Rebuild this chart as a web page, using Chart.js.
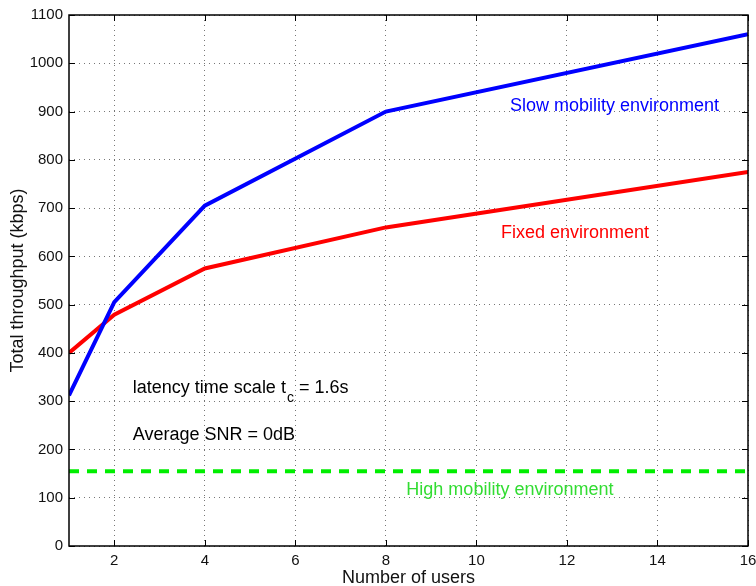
<!DOCTYPE html>
<html>
<head>
<meta charset="utf-8">
<script src="https://cdn.jsdelivr.net/npm/chart.js@4"></script>
<style>
  body { margin: 0; background: #fff; }
  #wrap { width: 756px; height: 586px; }
</style>
</head>
<body>
<div id="wrap"><canvas id="myChart" width="756" height="586"></canvas></div>
<script>
    // values
    var users = [1, 2, 4, 8, 16];
    var slowMobility = [312, 505, 705, 900, 1060];
    var fixedEnv = [400, 479, 575, 660, 775];
    var highMobilityX = [1, 16];
    var highMobility = [155, 155];
    var xTicks = [2, 4, 6, 8, 10, 12, 14, 16];

    function toPoints(xs, ys) {
      return xs.map(function(x, i) { return { x: x, y: ys[i] }; });
    }

    var fontFamily = '"Liberation Sans", Arial, Helvetica, sans-serif';

    // labels written inside the plot, placed in data coordinates
    var notes = [
      { text: 'Slow mobility environment', x: 13.05, y: 912, color: '#0000ff', align: 'center' },
      { text: 'Fixed environment', x: 12.18, y: 649, color: '#ff0000', align: 'center' },
      { text: 'High mobility environment', x: 10.74, y: 116, color: 'rgb(50,220,50)', align: 'center' },
      { text: 'Average SNR = 0dB', x: 2.41, y: 229, color: '#000', align: 'left' }
    ];

    var framePlugin = {
      id: 'frame',
      afterDraw: function(chart) {
        var c = chart.ctx, a = chart.chartArea;
        var xs = chart.scales.x, ys = chart.scales.y;
        c.save();
        c.strokeStyle = '#000';
        c.lineWidth = 1.5;
        c.strokeRect(a.left, a.top, a.right - a.left, a.bottom - a.top);
        // inward ticks
        c.lineWidth = 1;
        xTicks.forEach(function(v) {
          var px = Math.round(xs.getPixelForValue(v)) + 0.5;
          c.beginPath();
          c.moveTo(px, a.bottom); c.lineTo(px, a.bottom - 6);
          c.moveTo(px, a.top); c.lineTo(px, a.top + 6);
          c.stroke();
        });
        for (var v = 0; v <= 1100; v += 100) {
          var py = Math.round(ys.getPixelForValue(v)) + 0.5;
          c.beginPath();
          c.moveTo(a.left, py); c.lineTo(a.left + 6, py);
          c.moveTo(a.right, py); c.lineTo(a.right - 6, py);
          c.stroke();
        }
        // annotations
        c.font = '18px ' + fontFamily;
        c.textBaseline = 'middle';
        notes.forEach(function(n) {
          c.fillStyle = n.color;
          c.textAlign = n.align;
          c.fillText(n.text, xs.getPixelForValue(n.x), ys.getPixelForValue(n.y));
        });
        // latency line with subscript
        var lx = xs.getPixelForValue(2.41), ly = ys.getPixelForValue(327);
        c.fillStyle = '#000';
        c.textAlign = 'left';
        var s1 = 'latency time scale t';
        c.fillText(s1, lx, ly);
        var w1 = c.measureText(s1).width;
        c.font = '14px ' + fontFamily;
        c.fillText('c', lx + w1 + 1, ly + 10);
        var w2 = c.measureText('c').width;
        c.font = '18px ' + fontFamily;
        c.fillText(' = 1.6s', lx + w1 + w2 + 1, ly);
        c.restore();
      }
    };

    var ctx = document.getElementById('myChart').getContext('2d');

    var data = {
      datasets: [
        {
          label: 'Slow mobility environment',
          data: toPoints(users, slowMobility),
          borderColor: '#0000ff',
          borderWidth: 4,
          pointRadius: 0,
          tension: 0,
          fill: false
        },
        {
          label: 'Fixed environment',
          data: toPoints(users, fixedEnv),
          borderColor: '#ff0000',
          borderWidth: 4,
          pointRadius: 0,
          tension: 0,
          fill: false
        },
        {
          label: 'High mobility environment',
          data: toPoints(highMobilityX, highMobility),
          borderColor: '#00ee00',
          borderWidth: 4,
          borderDash: [10, 8],
          pointRadius: 0,
          fill: false
        }
      ]
    };

    var options = {
      responsive: false,
      animation: false,
      layout: { padding: { top: 14, right: 0, left: 0, bottom: 0 } },
      plugins: {
        legend: { display: false },
        tooltip: { enabled: false }
      },
      scales: {
        x: {
          type: 'linear',
          min: 1,
          max: 16,
          afterBuildTicks: function(axis) {
            axis.ticks = xTicks.map(function(v) { return { value: v }; });
          },
          afterFit: function(axis) {
            axis.height = 40;
            axis.paddingLeft = 0;
            axis.paddingRight = 8;
          },
          grid: { color: '#777', lineWidth: 1, drawTicks: false },
          border: { display: false, dash: [1, 4] },
          ticks: {
            color: '#111',
            padding: 6,
            maxRotation: 0,
            font: { family: fontFamily, size: 15 },
            callback: function(v) { return String(v); }
          },
          title: {
            display: true,
            text: 'Number of users',
            color: '#111',
            padding: { top: 0, bottom: -3 },
            font: { family: fontFamily, size: 18 }
          }
        },
        y: {
          min: 0,
          max: 1100,
          afterFit: function(axis) { axis.width = 69; },
          grid: { color: '#777', lineWidth: 1, drawTicks: false },
          border: { display: false, dash: [1, 4] },
          ticks: {
            stepSize: 100,
            color: '#111',
            padding: 6,
            font: { family: fontFamily, size: 15 },
            callback: function(v) { return String(v); }
          },
          title: {
            display: true,
            text: 'Total throughput (kbps)',
            color: '#111',
            padding: { top: 7, bottom: 0 },
            font: { family: fontFamily, size: 18 }
          }
        }
      }
    };

    var myChart = new Chart(ctx, {
      type: 'line',
      data: data,
      options: options,
      plugins: [framePlugin]
    });
</script>
</body>
</html>
